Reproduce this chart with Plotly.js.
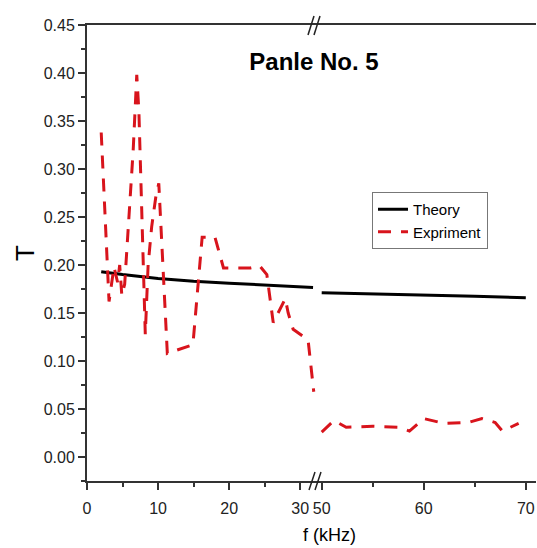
<!DOCTYPE html>
<html><head><meta charset="utf-8">
<script src="https://cdn.plot.ly/plotly-3.0.1.min.js"></script>
<style>html,body{margin:0;padding:0;background:#fff;} #chart{width:537px;height:548px;}</style>
</head><body><div id="chart"></div>
<script>
// ---- data ----
const theoryF1 = [2, 5, 10, 15, 20, 25, 31.8];
const theoryT1 = [0.193, 0.190, 0.186, 0.183, 0.181, 0.179, 0.1765];
const theoryF2 = [50, 55, 60, 65, 70];
const theoryT2 = [0.171, 0.170, 0.169, 0.1675, 0.166];

const exprF1 = [2.0, 3.1, 3.8, 4.3, 4.6, 4.9, 5.3, 6.0, 6.5, 7.0, 7.3, 8.2, 8.6, 9.1, 9.7, 10.1, 11.3, 14.9, 16.2, 18.0, 19.2, 23.0, 24.3, 25.3, 26.2, 27.9, 28.3, 29.0, 31.1, 31.9];
const exprT1 = [0.338, 0.162, 0.198, 0.182, 0.200, 0.168, 0.180, 0.260, 0.320, 0.398, 0.360, 0.128, 0.200, 0.240, 0.272, 0.285, 0.108, 0.117, 0.229, 0.229, 0.197, 0.197, 0.199, 0.190, 0.140, 0.165, 0.150, 0.133, 0.122, 0.068];
const exprF2 = [50.0, 51.2, 52.4, 55.0, 57.5, 58.6, 60.0, 62.0, 64.4, 65.7, 67.0, 67.7, 69.3];
const exprT2 = [0.026, 0.038, 0.031, 0.032, 0.031, 0.027, 0.040, 0.035, 0.036, 0.040, 0.036, 0.027, 0.035];

const xTicks1 = [0, 10, 20, 30];
const xTicks2 = [50, 60, 70];
const xTickText1 = ['0', '10', '20', '30'];
const xTickText2 = ['50', '60', '70'];
const yTicks = [0.00, 0.05, 0.10, 0.15, 0.20, 0.25, 0.30, 0.35, 0.40, 0.45];
const yTickText = ['0.00', '0.05', '0.10', '0.15', '0.20', '0.25', '0.30', '0.35', '0.40', '0.45'];

// ---- layout geometry ----
const W = 537, H = 548;
const M = {l: 87, r: 1, t: 25, b: 67};
const PW = W - M.l - M.r, PH = H - M.t - M.b;
const BREAK = (316.6 - M.l) / PW;
const px = v => (v - M.l) / PW;
const py = v => 1 - (v - M.t) / PH;

const AX = '#333333';
const FONT = 'Liberation Sans, Arial, sans-serif';
const RED = '#d8141c';

const theoryLine = {color: '#000000', width: 3};
const exprLine = {color: RED, width: 3, dash: '13px,10px'};

const traces = [
  {x: theoryF1, y: theoryT1, xaxis: 'x', yaxis: 'y', mode: 'lines', name: 'Theory', legendgroup: 'th', line: theoryLine},
  {x: theoryF2, y: theoryT2, xaxis: 'x2', yaxis: 'y', mode: 'lines', name: 'Theory', legendgroup: 'th', showlegend: false, line: theoryLine},
  {x: exprF1, y: exprT1, xaxis: 'x', yaxis: 'y', mode: 'lines', name: 'Expriment', legendgroup: 'ex', line: exprLine},
  {x: exprF2, y: exprT2, xaxis: 'x2', yaxis: 'y', mode: 'lines', name: 'Expriment', legendgroup: 'ex', showlegend: false, line: exprLine}
];

const xCommon = {
  showline: true, linecolor: AX, linewidth: 2, mirror: true,
  ticks: 'outside', ticklen: 7, tickwidth: 2, tickcolor: AX, ticklabelstandoff: 5,
  showgrid: false, zeroline: false, tickmode: 'array',
  tickfont: {family: FONT, size: 16, color: '#222'},
  minor: {dtick: 5, ticks: 'outside', ticklen: 4, tickwidth: 2, tickcolor: AX, showgrid: false}
};

const slash = (x0, y0, x1, y1) => ({type: 'line', xref: 'paper', yref: 'paper',
  x0: px(x0), y0: py(y0), x1: px(x1), y1: py(y1), line: {color: '#222', width: 1.5}});

const layout = {
  width: W, height: H, margin: M,
  paper_bgcolor: '#fff', plot_bgcolor: '#fff',
  title: {text: '<b>Panle No. 5</b>', x: 314 / W, xanchor: 'center', y: 1 - 62 / H, yanchor: 'middle',
    font: {family: FONT, size: 24, color: '#000'}},
  xaxis: Object.assign({}, xCommon, {domain: [0, BREAK], range: [0, 32.3], anchor: 'y',
    tickvals: xTicks1, ticktext: xTickText1, minor: Object.assign({}, xCommon.minor, {tick0: 0})}),
  xaxis2: Object.assign({}, xCommon, {domain: [BREAK, 1], range: [49.5, 71], anchor: 'y',
    tickvals: xTicks2, ticktext: xTickText2, minor: Object.assign({}, xCommon.minor, {tick0: 50})}),
  yaxis: {
    domain: [0, 1], range: [-0.025, 0.45], anchor: 'x',
    showline: true, linecolor: AX, linewidth: 2,
    ticks: 'outside', ticklen: 7, tickwidth: 2, tickcolor: AX,
    showgrid: false, zeroline: false, tickmode: 'array', tickvals: yTicks, ticktext: yTickText,
    tickfont: {family: FONT, size: 16, color: '#222'},
    minor: {dtick: 0.025, tick0: 0, ticks: 'outside', ticklen: 4, tickwidth: 2, tickcolor: AX, showgrid: false},
    title: {text: 'T', standoff: 2, font: {family: FONT, size: 26, color: '#000'}}
  },
  showlegend: true,
  legend: {x: px(372), y: py(192), xanchor: 'left', yanchor: 'top',
    bgcolor: '#fff', bordercolor: '#777', borderwidth: 1,
    font: {family: FONT, size: 15, color: '#000'}, tracegroupgap: 0},
  annotations: [
    {text: 'f (kHz)', xref: 'paper', yref: 'paper', x: px(329), y: py(535), xanchor: 'center', yanchor: 'middle',
     showarrow: false, font: {family: FONT, size: 18, color: '#000'}}
  ],
  shapes: [
    slash(308, 35, 314, 16), slash(314, 35, 320, 16),
    slash(309, 490, 315, 472), slash(315, 490, 321, 472)
  ]
};

Plotly.newPlot('chart', traces, layout, {displayModeBar: false, staticPlot: true});
</script>
</body></html>
